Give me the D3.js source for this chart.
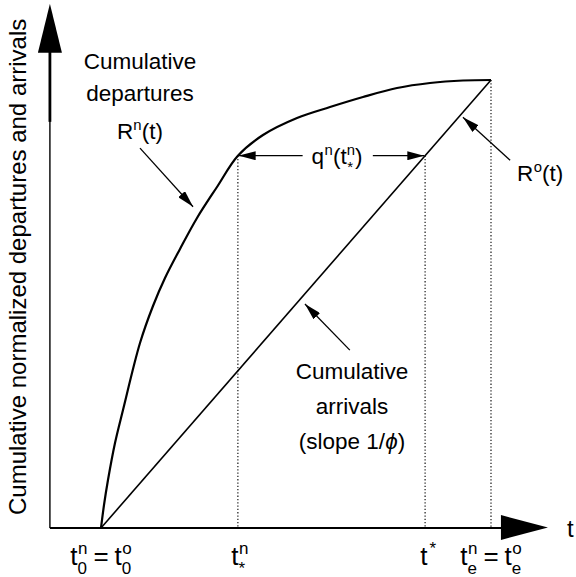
<!DOCTYPE html>
<html>
<head>
<meta charset="utf-8">
<script src="https://cdn.jsdelivr.net/npm/d3@7"></script>
<style>
  html, body { margin: 0; padding: 0; background: #fff; }
  svg { display: block; }
  text { font-family: "Liberation Sans", Arial, Helvetica, sans-serif; fill: #000; }
</style>
</head>
<body>
<svg id="chart" width="576" height="577"></svg>
<script>
// ---- Data (normalized time t: t0 = 0, te = 1; normalized cumulative count) ----
const timePoints   = [0, 0.0077, 0.0179, 0.0359, 0.0564, 0.1000, 0.1333, 0.1641, 0.2026, 0.2462, 0.2974, 0.351, 0.4154, 0.5026, 0.5872, 0.6718, 0.7590, 0.8436, 0.9282, 1.000];
const departures   = [0, 0.0513, 0.1071, 0.1897, 0.2634, 0.4129, 0.4955, 0.5580, 0.6228, 0.6920, 0.7612, 0.831, 0.8772, 0.9152, 0.9397, 0.9621, 0.9821, 0.9933, 0.9989, 1.000];
const arrivalTimes = [0, 1];
const arrivals     = [0, 1];
const keyTimes     = [0, 0.351, 0.831, 1];          // t0, t*^n, t*, te
const axisX        = [-0.131, 1.146];
const axisY        = [0, 1.17];

const svg = d3.select("#chart");
const x = d3.scaleLinear().domain([0, 1]).range([101, 491]);
const y = d3.scaleLinear().domain([0, 1]).range([528, 80]);

// ---- helpers ----
function richLabel(parent, px, py, items, size, anchor, small) {
  const g = parent.append("g");
  let cx = 0;
  small = small || size * 0.66;
  items.forEach(it => {
    if (typeof it === "string") {
      const t = g.append("text").attr("x", cx).attr("y", 0)
        .style("font-size", size + "px").text(it);
      cx += t.node().getComputedTextLength();
    } else if (it.gap) {
      cx += it.gap;
    } else {
      let w = 0;
      if (it.sup) {
        const t = g.append("text").attr("x", cx + (it.dx || 0)).attr("y", -size * 0.42)
          .style("font-size", small + "px").text(it.sup);
        w = Math.max(w, t.node().getComputedTextLength() + (it.dx || 0));
      }
      if (it.sub) {
        const t = g.append("text").attr("x", cx + (it.sdx || 0)).attr("y", size * 0.36)
          .style("font-size", (it.subSize || small) + "px").text(it.sub);
        w = Math.max(w, t.node().getComputedTextLength() + (it.sdx || 0));
      }
      cx += w;
    }
  });
  const off = anchor === "middle" ? -cx / 2 : anchor === "end" ? -cx : 0;
  g.attr("transform", `translate(${px + off},${py})`);
  return g;
}

// arrowhead marker
const defs = svg.append("defs");
defs.append("marker").attr("id", "ah")
  .attr("viewBox", "0 0 17 9").attr("refX", 17).attr("refY", 4.5)
  .attr("markerWidth", 17).attr("markerHeight", 9)
  .attr("markerUnits", "userSpaceOnUse").attr("orient", "auto")
  .append("path").attr("d", "M0,0 L17,4.5 L0,9 Z").attr("fill", "#000");

// ---- axes ----
svg.append("line")
  .attr("x1", x(axisX[0])).attr("y1", y(0))
  .attr("x2", x(axisX[1]) - 40).attr("y2", y(0))
  .attr("stroke", "#000").attr("stroke-width", 1.8);
svg.append("path")
  .attr("d", `M${x(axisX[1])},${y(0) - 0.5} L${x(axisX[1]) - 47},${y(0) - 13} L${x(axisX[1]) - 47},${y(0) + 12} Z`)
  .attr("fill", "#000");

svg.append("line")
  .attr("x1", x(axisX[0])).attr("y1", y(0))
  .attr("x2", x(axisX[0])).attr("y2", y(axisY[1]) + 45)
  .attr("stroke", "#000").attr("stroke-width", 1.4);
svg.append("line")
  .attr("x1", x(axisX[0])).attr("y1", y(axisY[1]) + 118)
  .attr("x2", x(axisX[0])).attr("y2", y(axisY[1]) + 45)
  .attr("stroke", "#000").attr("stroke-width", 2.8);
svg.append("path")
  .attr("d", `M${x(axisX[0])},${y(axisY[1])} L${x(axisX[0]) - 12},${y(axisY[1]) + 49} L${x(axisX[0]) + 12},${y(axisY[1]) + 49} Z`)
  .attr("fill", "#000");

// ---- dotted verticals ----
const dotted = [
  { t: keyTimes[1], v: departures[timePoints.indexOf(keyTimes[1])] },
  { t: keyTimes[2], v: arrivals[0] + (arrivals[1] - arrivals[0]) * keyTimes[2] },
  { t: keyTimes[3], v: departures[departures.length - 1] }
];
svg.selectAll("line.dot").data(dotted).join("line").attr("class", "dot")
  .attr("x1", d => x(d.t)).attr("x2", d => x(d.t))
  .attr("y1", d => y(d.v)).attr("y2", y(0))
  .attr("stroke", "#000").attr("stroke-width", 1.1)
  .attr("stroke-dasharray", "1.3,2");

// ---- curves ----
const depLine = d3.line().x((d, i) => x(timePoints[i])).y(d => y(d)).curve(d3.curveCatmullRom.alpha(0.5));
svg.append("path").attr("d", depLine(departures))
  .attr("fill", "none").attr("stroke", "#000").attr("stroke-width", 2.2)
  .attr("stroke-linejoin", "round");

const arrLine = d3.line().x((d, i) => x(arrivalTimes[i])).y(d => y(d));
svg.append("path").attr("d", arrLine(arrivals))
  .attr("fill", "none").attr("stroke", "#000").attr("stroke-width", 1.6);

// ---- annotation arrows (data coordinates) ----
const arrows = [
  { x1: 0.100, y1: 0.848, x2: 0.236, y2: 0.717 },   // R^n(t)
  { x1: 0.517, y1: 0.831, x2: 0.353, y2: 0.831 },   // q left
  { x1: 0.697, y1: 0.831, x2: 0.829, y2: 0.831 },   // q right
  { x1: 1.049, y1: 0.821, x2: 0.928, y2: 0.917 },   // R^o(t)
  { x1: 0.638, y1: 0.397, x2: 0.523, y2: 0.500 }    // arrivals
];
svg.selectAll("line.arr").data(arrows).join("line").attr("class", "arr")
  .attr("x1", d => x(d.x1)).attr("y1", d => y(d.y1))
  .attr("x2", d => x(d.x2)).attr("y2", d => y(d.y2))
  .attr("stroke", "#000").attr("stroke-width", 1.3)
  .attr("marker-end", "url(#ah)");

// ---- texts ----
const F = 22.5;
svg.append("text").attr("x", 140).attr("y", 69).attr("text-anchor", "middle")
  .style("font-size", F + "px").text("Cumulative");
svg.append("text").attr("x", 140).attr("y", 101).attr("text-anchor", "middle")
  .style("font-size", F + "px").text("departures");
richLabel(svg, 140, 139, ["R", { sup: "n" }, "(t)"], F, "middle");

richLabel(svg, 337, 164, ["q", { sup: "n", dx: 0.5 }, "(t", { sup: "n", sub: "*", sdx: 0.5, subSize: 15 }, ")"], F, "middle");
richLabel(svg, 517, 181, ["R", { sup: "o", dx: 0.5 }, "(t)"], F, "start");

svg.append("text").attr("x", 352).attr("y", 379).attr("text-anchor", "middle")
  .style("font-size", F + "px").text("Cumulative");
svg.append("text").attr("x", 352).attr("y", 414).attr("text-anchor", "middle")
  .style("font-size", F + "px").text("arrivals");
const slopeT = svg.append("text").attr("x", 352).attr("y", 449).attr("text-anchor", "middle")
  .style("font-size", F + "px");
slopeT.append("tspan").text("(slope 1/");
slopeT.append("tspan").style("font-style", "italic").text("\u03D5");
slopeT.append("tspan").text(")");

// y-axis title
svg.append("text")
  .attr("transform", "translate(26,515) rotate(-90)")
  .attr("text-anchor", "start")
  .style("font-size", "24px")
  .text("Cumulative normalized departures and arrivals");

// x-axis title
svg.append("text").attr("x", 567).attr("y", 537).style("font-size", "24px").text("t");

// tick labels
const LF = 26;
const tickLabels = [
  ["t", { sub: "0", sup: "n", dx: 0.5 }, { gap: 6 }, "=", { gap: 6 }, "t", { sub: "0", sup: "o", dx: 0.5 }],
  ["t", { sub: "*", sup: "n", subSize: 17, dx: 0.5 }],
  ["t", { sup: "*", dx: 2 }],
  ["t", { sub: "e", sup: "n", dx: 0.5 }, { gap: 6 }, "=", { gap: 6 }, "t", { sub: "e", sup: "o", dx: 0.5 }]
];
const tickOffsets = [0, 2, 3, 0];
keyTimes.forEach((t, i) => {
  richLabel(svg, x(t) + tickOffsets[i], 565, tickLabels[i], LF, "middle", 17);
});
</script>
</body>
</html>
